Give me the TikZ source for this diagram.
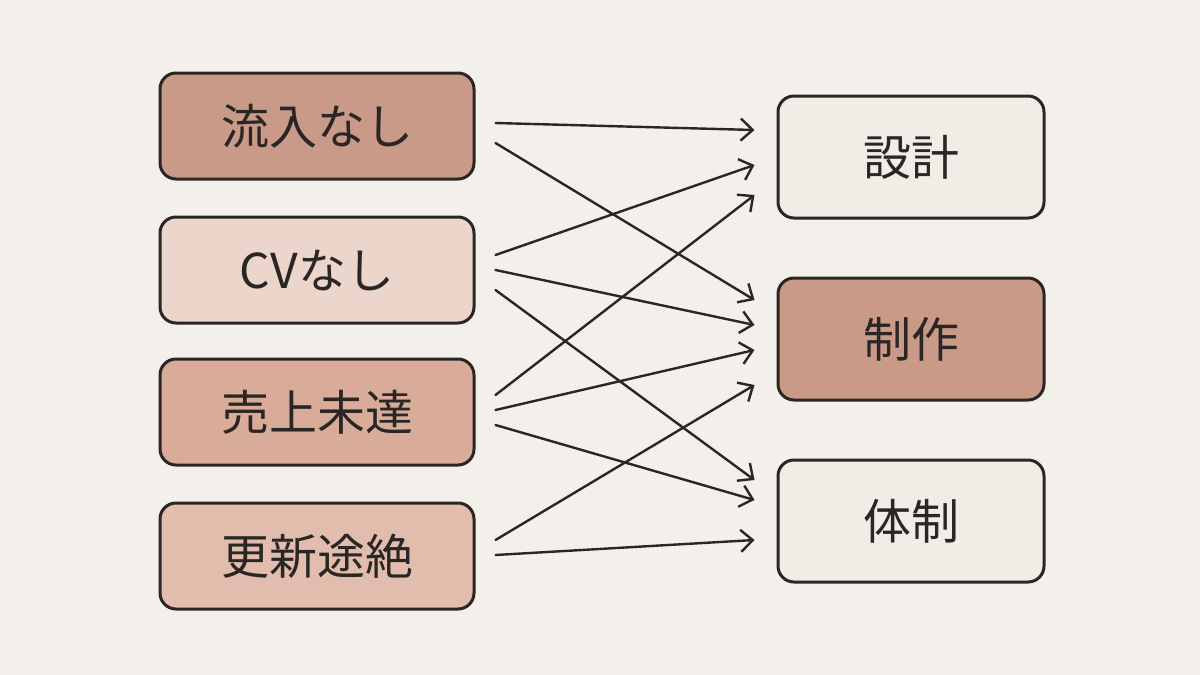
\documentclass[tikz,border=0pt]{standalone}
\usepackage{fontspec}
\setmainfont{Noto Sans CJK JP}
\usetikzlibrary{arrows.meta}
\definecolor{bg}{HTML}{F3F0EB}
\definecolor{cdark}{HTML}{C99A88}
\definecolor{clight}{HTML}{ECD6CC}
\definecolor{cmid}{HTML}{D9AC99}
\definecolor{cmid2}{HTML}{E2BCAC}
\definecolor{cpale}{HTML}{F2ECE6}
\definecolor{ink}{HTML}{2A2624}
\begin{document}
\begin{tikzpicture}[x=1pt,y=-1pt,
  box/.style={draw=ink,line width=3pt,rounded corners=16pt,inner sep=0pt,font=\fontsize{48}{52}\selectfont,text=ink},
  lbox/.style={box,minimum width=314pt,minimum height=106pt},
  rbox/.style={box,minimum width=266pt,minimum height=122pt},
  arr/.style={draw=ink,line width=2.4pt,line cap=round,-{Straight Barb[length=12pt,width=22pt,line width=2.4pt]}}]
\fill[bg] (0,0) rectangle (1200,675);
\useasboundingbox (0,0) rectangle (1200,675);
\node[lbox,fill=cdark] (l1) at (317,126) {流入なし};
\node[lbox,fill=clight] (l2) at (317,270) {CVなし};
\node[lbox,fill=cmid] (l3) at (317,412) {売上未達};
\node[lbox,fill=cmid2] (l4) at (317,556) {更新途絶};
\node[rbox,fill=cpale] (r1) at (911,157) {設計};
\node[rbox,fill=cdark] (r2) at (911,339) {制作};
\node[rbox,fill=cpale] (r3) at (911,521) {体制};
\draw[arr] ([shift={(20,-3)}]l1.east) -- ([shift={(-22,-27)}]r1.west);
\draw[arr] ([shift={(20,17)}]l1.east) -- ([shift={(-22,-39)}]r2.west);
\draw[arr] ([shift={(20,-15)}]l2.east) -- ([shift={(-22,8)}]r1.west);
\draw[arr] ([shift={(20,0)}]l2.east) -- ([shift={(-22,-14)}]r2.west);
\draw[arr] ([shift={(20,20)}]l2.east) -- ([shift={(-22,-41)}]r3.west);
\draw[arr] ([shift={(20,-17)}]l3.east) -- ([shift={(-22,38)}]r1.west);
\draw[arr] ([shift={(20,-2)}]l3.east) -- ([shift={(-22,11)}]r2.west);
\draw[arr] ([shift={(20,13)}]l3.east) -- ([shift={(-22,-21)}]r3.west);
\draw[arr] ([shift={(20,-16)}]l4.east) -- ([shift={(-22,46)}]r2.west);
\draw[arr] ([shift={(20,-1)}]l4.east) -- ([shift={(-22,19)}]r3.west);
\end{tikzpicture}
\end{document}
